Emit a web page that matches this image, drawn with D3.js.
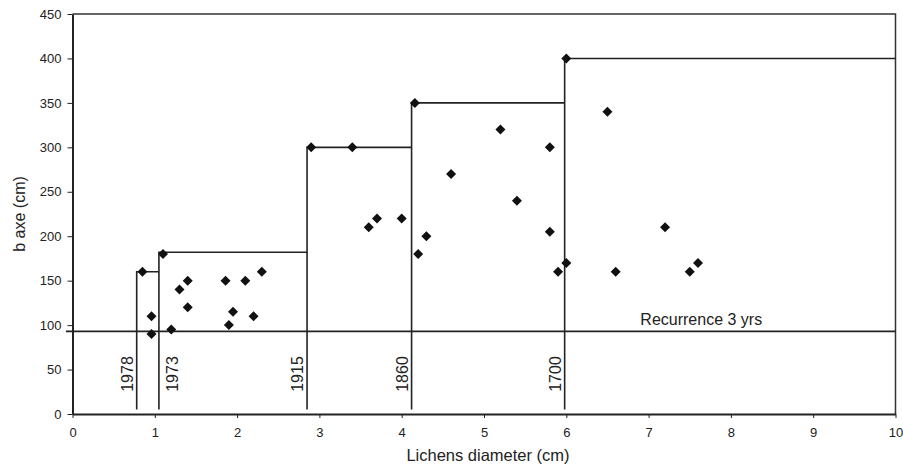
<!DOCTYPE html>
<meta charset="utf-8">
<title>Lichens diameter vs b axe</title>
<script src="https://d3js.org/d3.v7.min.js"></script>
<style>
  body { margin: 0; background: #fff; }
  svg text { font-family: "Liberation Sans", Arial, sans-serif; fill: #222; }
  .axis path, .axis line { stroke: #222; }
</style>
<body>
<svg class=chart></svg>
<script>

// lichens diameter (cm) and b axe (cm) for each block
var diam = [0.85, 0.96, 0.96, 1.1, 1.2, 1.3, 1.4, 1.4, 1.86, 1.95, 1.9, 2.1, 2.2, 2.3,
  2.9, 3.4, 3.6, 3.7, 4.0, 4.16, 4.2, 4.3, 4.6, 5.2, 5.4, 5.8, 5.8, 5.9, 6.0,
  6.0, 6.5, 7.2, 6.6, 7.5, 7.6];
var baxe = [160, 110, 90, 180, 95, 140, 150, 120, 150, 115, 100, 150, 110, 160,
  300, 300, 210, 220, 220, 350, 180, 200, 270, 320, 240, 300, 205, 160, 170,
  400, 340, 210, 160, 160, 170];

// dated steps: year, diameter of the line, height of the step
var years = ["1978", "1973", "1915", "1860", "1700"];
var stepX = [0.78, 1.05, 2.85, 4.12, 5.98];
var stepY = [160, 182, 300, 350, 400];

var recurrence = 93;
var recurrenceLabel = "Recurrence 3 yrs";

var xTicks = [0, 1, 2, 3, 4, 5, 6, 7, 8, 9, 10];
var yTicks = [0, 50, 100, 150, 200, 250, 300, 350, 400, 450];

var width = 903, height = 468;
var plotLeft = 72.5, plotRight = 895.5, plotTop = 14, plotBottom = 414;

var svg = d3.select(".chart").attr("width", width).attr("height", height);

var x = d3.scaleLinear().domain([0, 10]).range([plotLeft, plotRight]);
var y = d3.scaleLinear().domain([0, 450]).range([plotBottom, plotTop]);

// frame top and right
svg.append("path")
  .attr("d", "M" + plotLeft + "," + y(450) + "H" + x(10) + "V" + y(0))
  .attr("fill", "none")
  .attr("stroke", "#333")
  .attr("stroke-width", 1.5);

var xAxis = svg.append("g")
  .attr("class", "axis")
  .attr("transform", "translate(0," + plotBottom + ")")
  .call(d3.axisBottom(x).tickValues(xTicks).tickSize(4).tickPadding(10).tickSizeOuter(0));
xAxis.selectAll("text").style("font-size", "13px").attr("fill", "#222");
xAxis.select(".domain").attr("stroke-width", 2);

var yAxis = svg.append("g")
  .attr("class", "axis")
  .attr("transform", "translate(" + plotLeft + ",0)")
  .call(d3.axisLeft(y).tickValues(yTicks).tickSize(5).tickPadding(6).tickSizeOuter(0));
yAxis.selectAll("text").style("font-size", "13px").attr("fill", "#222");
yAxis.select(".domain").attr("stroke-width", 2);

// step lines
var line = d3.line().x(function(d) { return x(d[0]); }).y(function(d) { return y(d[1]); });
var lines = svg.append("g").attr("fill", "none").attr("stroke", "#222").attr("stroke-width", 1.6);

stepX.forEach(function(sx, i) {
  var endX = i < stepX.length - 1 ? stepX[i + 1] : 10;
  lines.append("path").attr("d", line([[sx, 5], [sx, stepY[i]], [endX, stepY[i]]]));
});

// recurrence line
lines.append("path").attr("d", line([[-0.08, recurrence], [10, recurrence]]));

svg.append("text")
  .attr("x", x(7.64))
  .attr("y", y(recurrence) - 6)
  .attr("text-anchor", "middle")
  .style("font-size", "16px")
  .text(recurrenceLabel);

// year labels (1973 sits right of its line)
svg.selectAll(".year")
  .data(years)
  .enter().append("text")
  .attr("class", "year")
  .attr("transform", function(d, i) {
    var dx = d === "1973" ? 19 : -4;
    return "translate(" + (x(stepX[i]) + dx) + "," + y(25) + ") rotate(-90)";
  })
  .style("font-size", "16px")
  .text(function(d) { return d; });

// points
svg.selectAll(".pt")
  .data(diam)
  .enter().append("path")
  .attr("class", "pt")
  .attr("d", d3.symbol().type(d3.symbolSquare).size(50))
  .attr("transform", function(d, i) { return "translate(" + x(d) + "," + y(baxe[i]) + ") rotate(45)"; })
  .attr("fill", "#111");

// titles
svg.append("text")
  .attr("x", 488)
  .attr("y", 461)
  .attr("text-anchor", "middle")
  .style("font-size", "16.5px")
  .text("Lichens diameter (cm)");

svg.append("text")
  .attr("transform", "translate(25," + ((plotTop + plotBottom) / 2) + ") rotate(-90)")
  .attr("text-anchor", "middle")
  .style("font-size", "16px")
  .text("b axe (cm)");

</script>
</body>
